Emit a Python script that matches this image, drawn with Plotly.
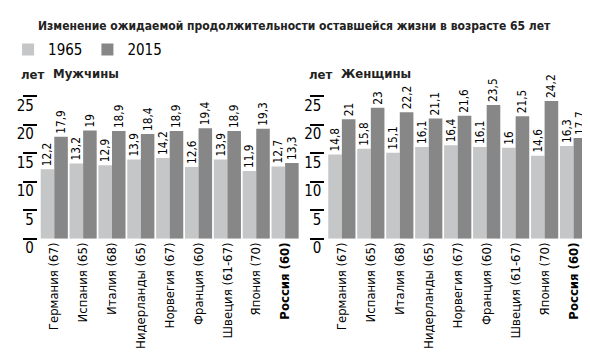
import plotly.graph_objects as go

countries = ["Германия (67)", "Испания (65)", "Италия (68)", "Нидерланды (65)", "Норвегия (67)",
             "Франция (60)", "Швеция (61-67)", "Япония (70)", "Россия (60)"]
men_1965 = [12.2, 13.2, 12.9, 13.9, 14.2, 12.6, 13.9, 11.9, 12.7]
men_2015 = [17.9, 19.0, 18.9, 18.4, 18.9, 19.4, 18.9, 19.3, 13.3]
women_1965 = [14.8, 15.8, 15.1, 16.1, 16.4, 16.1, 16.0, 14.6, 16.3]
women_2015 = [21.0, 23.0, 22.2, 21.1, 21.6, 23.5, 21.5, 24.2, 17.7]
years = ["1965", "2015"]
y_ticks = [0, 5, 10, 15, 20, 25]
highlight = "Россия (60)"

title = "Изменение ожидаемой продолжительности оставшейся жизни в возрасте 65 лет"
panel_titles = ["Мужчины", "Женщины"]
unit = "лет"

LIGHT = "#c5c6c8"
DARK = "#878787"
FONT = "DejaVu Sans Condensed"


def fmt(v):
    return (str(int(v)) if float(v).is_integer() else str(v)).replace(".", ",")


fig = go.Figure()
panels = [(men_1965, men_2015, "x", "y"), (women_1965, women_2015, "x2", "y2")]
for i, (a, b, xa, ya) in enumerate(panels):
    for vals, col, name in [(a, LIGHT, years[0]), (b, DARK, years[1])]:
        fig.add_trace(go.Bar(
            x=countries, y=vals, name=name, marker=dict(color=col, line=dict(width=0)),
            text=[fmt(v) for v in vals], textposition="outside", textangle=-90,
            textfont=dict(family=FONT, size=12, color="black"), cliponaxis=False,
            xaxis=xa, yaxis=ya, showlegend=(i == 0), legendgroup=name,
        ))

xdoms = [[29 / 590, 290 / 590], [318 / 590, 580 / 590]]
ydom = [1 - 243 / 360, 1 - 93 / 360]
yaxis_common = dict(range=[0, 25], tickvals=y_ticks, showgrid=False, zeroline=False, showline=False,
                    ticks="outside", ticklen=14, tickwidth=2, tickcolor="black",
                    tickfont=dict(family=FONT, size=15, color="black"),
                    ticklabelstandoff=-14, ticklabelshift=9, domain=ydom, anchor="free")
xaxis_common = dict(showgrid=False, zeroline=False, showline=False, ticks="", tickangle=-90,
                    tickvals=countries,
                    ticktext=[("<b>" + c + "</b>") if c == highlight else c for c in countries],
                    tickfont=dict(family=FONT, size=13, color="black"), automargin=False)

fig.update_layout(
    width=590, height=360, margin=dict(l=0, r=0, t=0, b=0),
    paper_bgcolor="white", plot_bgcolor="white",
    barmode="group", bargap=0.06, bargroupgap=0,
    uniformtext=dict(minsize=11, mode="show"),
    font=dict(family=FONT, color="black"),
    xaxis=dict(domain=xdoms[0], anchor="y", **xaxis_common),
    xaxis2=dict(domain=xdoms[1], anchor="y2", **xaxis_common),
    yaxis=dict(position=26 / 590, **yaxis_common),
    yaxis2=dict(position=315 / 590, **yaxis_common),
    legend=dict(orientation="h", x=-0.005, y=1 - 44 / 360, xanchor="left", yanchor="middle",
                font=dict(family=FONT, size=15, color="black"), itemwidth=30,
                bgcolor="rgba(0,0,0,0)", tracegroupgap=0),
    title=dict(text="<b>" + title + "</b>", x=30 / 590, xanchor="left", y=1 - 18 / 360, yanchor="middle",
               font=dict(family=FONT, size=12, color="#222")),
    showlegend=True,
)

for j, (lx, px) in enumerate([(8 / 590, 40 / 590), (298 / 590, 330 / 590)]):
    fig.add_annotation(text="<b>" + unit + "</b>", x=lx, y=1 - 70 / 360, xref="paper", yref="paper",
                       xanchor="left", yanchor="middle", showarrow=False,
                       font=dict(family=FONT, size=13, color="#222"))
    fig.add_annotation(text="<b>" + panel_titles[j] + "</b>", x=px, y=1 - 69 / 360, xref="paper", yref="paper",
                       xanchor="left", yanchor="middle", showarrow=False,
                       font=dict(family=FONT, size=13, color="#222"))

fig.write_html("out.html")
